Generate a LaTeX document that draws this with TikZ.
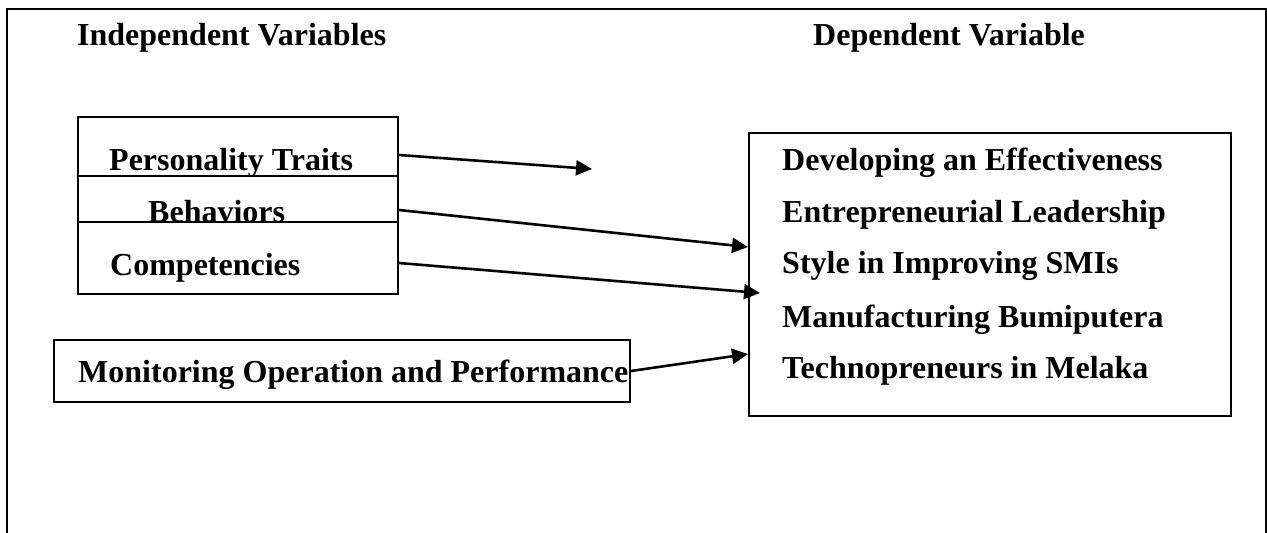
\documentclass[tikz,border=0pt]{standalone}
\usepackage{fontspec}
\setmainfont{Liberation Serif}
\usetikzlibrary{arrows.meta}
\begin{document}
\begin{tikzpicture}[x=1pt,y=-1pt,
  frame/.style={line width=2.4pt},
  box/.style={draw,line width=2pt,inner sep=0pt,anchor=north west},
  lbl/.style={font=\fontsize{32}{38}\selectfont\bfseries,inner sep=0pt,anchor=base west},
  arr/.style={line width=2.6pt,-{Triangle[length=16pt,width=15pt]}}]
\useasboundingbox (0,0) rectangle (1267,533);
% outer frame (no bottom edge)
\draw[frame] (7,533) -- (7,9) -- (1266,9) -- (1266,533);
% headings
\node[lbl] (hind) at (77,45) {Independent Variables};
\node[lbl] (hdep) at (813,45) {Dependent Variable};
% left stacked boxes
\node[box,minimum width=320pt,minimum height=59pt] (traits) at (77,116) {};
\node[box,minimum width=320pt,minimum height=46pt] (behav) at (77,175) {};
\node[box,minimum width=320pt,minimum height=72pt] (comp) at (77,221) {};
\node[lbl] (ttraits) at (109,170) {Personality Traits};
\node[lbl] (tbehav) at (148,222) {Behaviors};
\node[lbl] (tcomp) at (110,275) {Competencies};
% monitoring box
\node[box,minimum width=576pt,minimum height=62pt] (mon) at (53,339) {};
\node[lbl] (tmon) at (78,382) {Monitoring Operation and Performance};
% dependent box
\node[box,minimum width=482pt,minimum height=283pt] (dep) at (748,132) {};
\node[lbl] (d1) at (782,170) {Developing an Effectiveness};
\node[lbl] (d2) at (782,222) {Entrepreneurial Leadership};
\node[lbl] (d3) at (782,273) {Style in Improving SMIs};
\node[lbl] (d4) at (782,327) {Manufacturing Bumiputera};
\node[lbl] (d5) at (782,378) {Technopreneurs in Melaka};
% arrows
\coordinate (free1) at (592,169);
\draw[arr] (traits.east |- 0,155) -- (free1);
\draw[arr] (behav.east |- 0,210) -- (dep.west |- 0,247);
\draw[arr] (comp.east |- 0,263) -- ([xshift=12pt]dep.west |- 0,293);
\draw[arr] (mon.east |- 0,371) -- (dep.west |- 0,354);
\end{tikzpicture}
\end{document}
